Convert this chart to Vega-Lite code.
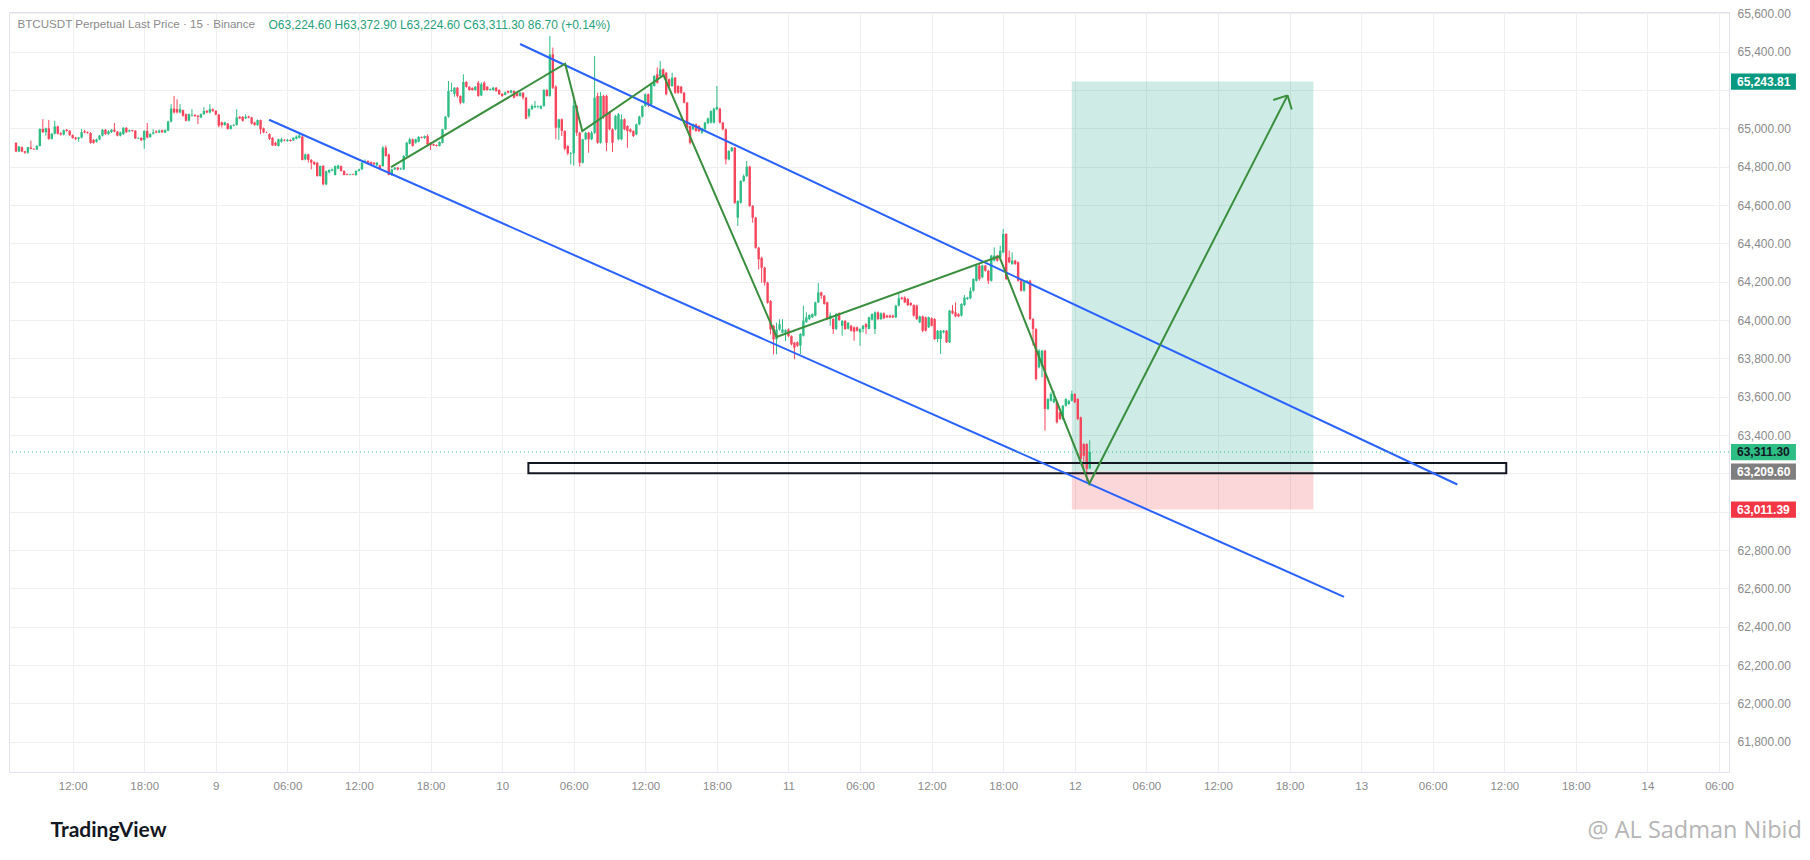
{
  "$schema": "https://vega.github.io/schema/vega-lite/v6.json",
  "width": 1720,
  "height": 760,
  "autosize": "none",
  "padding": {"left": 9, "top": 12, "right": 81, "bottom": 88},
  "background": "white",
  "config": {
    "font": "Liberation Sans",
    "view": {"stroke": "#e0e3eb"},
    "axis": {
      "labelColor": "#8a8a8a",
      "labelFont": "Liberation Sans",
      "labelFontSize": 12,
      "ticks": false,
      "tickSize": 0,
      "domainColor": "#e0e3eb",
      "gridColor": "#efefef",
      "labelFlush": false,
      "titleFontWeight": "normal"
    }
  },
  "resolve": {"axis": {"x": "independent", "y": "independent"}},
  "data": {
    "values": [
      {"t":"2024-05-08T07:15Z","o":64924,"h":64928,"l":64876,"c":64879},
      {"t":"2024-05-08T07:30Z","o":64879,"h":64908,"l":64876,"c":64905},
      {"t":"2024-05-08T07:45Z","o":64902,"h":64905,"l":64876,"c":64879},
      {"t":"2024-05-08T08:00Z","o":64880,"h":64882,"l":64867,"c":64873},
      {"t":"2024-05-08T08:15Z","o":64873,"h":64904,"l":64867,"c":64902},
      {"t":"2024-05-08T08:30Z","o":64900,"h":64936,"l":64890,"c":64893},
      {"t":"2024-05-08T08:45Z","o":64893,"h":64896,"l":64887,"c":64890},
      {"t":"2024-05-08T09:00Z","o":64890,"h":64912,"l":64886,"c":64908},
      {"t":"2024-05-08T09:15Z","o":64908,"h":65000,"l":64905,"c":64997},
      {"t":"2024-05-08T09:30Z","o":64997,"h":65048,"l":64976,"c":64980},
      {"t":"2024-05-08T09:45Z","o":64980,"h":65004,"l":64962,"c":65000},
      {"t":"2024-05-08T10:00Z","o":65000,"h":65044,"l":64940,"c":64945},
      {"t":"2024-05-08T10:15Z","o":64945,"h":64975,"l":64942,"c":64972},
      {"t":"2024-05-08T10:30Z","o":64972,"h":65040,"l":64968,"c":65010},
      {"t":"2024-05-08T10:45Z","o":65010,"h":65014,"l":64968,"c":64972},
      {"t":"2024-05-08T11:00Z","o":64975,"h":64980,"l":64962,"c":64968},
      {"t":"2024-05-08T11:15Z","o":64968,"h":64994,"l":64963,"c":64990},
      {"t":"2024-05-08T11:30Z","o":64993,"h":64996,"l":64982,"c":64986},
      {"t":"2024-05-08T11:45Z","o":64988,"h":64990,"l":64960,"c":64965},
      {"t":"2024-05-08T12:00Z","o":64965,"h":64968,"l":64946,"c":64950},
      {"t":"2024-05-08T12:15Z","o":64952,"h":64956,"l":64938,"c":64945},
      {"t":"2024-05-08T12:30Z","o":64945,"h":64956,"l":64930,"c":64952},
      {"t":"2024-05-08T12:45Z","o":64952,"h":64997,"l":64948,"c":64980},
      {"t":"2024-05-08T13:00Z","o":64985,"h":64992,"l":64974,"c":64978},
      {"t":"2024-05-08T13:15Z","o":64980,"h":64984,"l":64972,"c":64976},
      {"t":"2024-05-08T13:30Z","o":64976,"h":64980,"l":64920,"c":64924},
      {"t":"2024-05-08T13:45Z","o":64940,"h":64944,"l":64920,"c":64924},
      {"t":"2024-05-08T14:00Z","o":64930,"h":64946,"l":64926,"c":64942},
      {"t":"2024-05-08T14:15Z","o":64942,"h":64966,"l":64938,"c":64962},
      {"t":"2024-05-08T14:30Z","o":64962,"h":64996,"l":64958,"c":64993},
      {"t":"2024-05-08T14:45Z","o":64993,"h":64996,"l":64966,"c":64970},
      {"t":"2024-05-08T15:00Z","o":64970,"h":64990,"l":64966,"c":64985},
      {"t":"2024-05-08T15:15Z","o":64980,"h":64996,"l":64976,"c":64993},
      {"t":"2024-05-08T15:30Z","o":64993,"h":65028,"l":64980,"c":64983},
      {"t":"2024-05-08T15:45Z","o":64983,"h":64986,"l":64958,"c":64962},
      {"t":"2024-05-08T16:00Z","o":64962,"h":64982,"l":64958,"c":64979},
      {"t":"2024-05-08T16:15Z","o":64970,"h":65006,"l":64966,"c":65003},
      {"t":"2024-05-08T16:30Z","o":65003,"h":65006,"l":64976,"c":64980},
      {"t":"2024-05-08T16:45Z","o":64984,"h":64994,"l":64980,"c":64990},
      {"t":"2024-05-08T17:00Z","o":64990,"h":64992,"l":64982,"c":64986},
      {"t":"2024-05-08T17:15Z","o":64988,"h":64990,"l":64944,"c":64947},
      {"t":"2024-05-08T17:30Z","o":64947,"h":64953,"l":64944,"c":64950},
      {"t":"2024-05-08T17:45Z","o":64950,"h":64953,"l":64934,"c":64938},
      {"t":"2024-05-08T18:00Z","o":64938,"h":64990,"l":64893,"c":64986},
      {"t":"2024-05-08T18:15Z","o":64986,"h":65028,"l":64948,"c":64952},
      {"t":"2024-05-08T18:30Z","o":64955,"h":64975,"l":64950,"c":64970},
      {"t":"2024-05-08T18:45Z","o":64972,"h":64996,"l":64968,"c":64979},
      {"t":"2024-05-08T19:00Z","o":64984,"h":64990,"l":64975,"c":64978},
      {"t":"2024-05-08T19:15Z","o":64978,"h":64994,"l":64975,"c":64988},
      {"t":"2024-05-08T19:30Z","o":64990,"h":64994,"l":64976,"c":64980},
      {"t":"2024-05-08T19:45Z","o":64978,"h":64996,"l":64975,"c":64990},
      {"t":"2024-05-08T20:00Z","o":64988,"h":65040,"l":64985,"c":65036},
      {"t":"2024-05-08T20:15Z","o":65036,"h":65126,"l":65030,"c":65103},
      {"t":"2024-05-08T20:30Z","o":65103,"h":65169,"l":65078,"c":65083},
      {"t":"2024-05-08T20:45Z","o":65100,"h":65152,"l":65078,"c":65083},
      {"t":"2024-05-08T21:00Z","o":65083,"h":65126,"l":65078,"c":65100},
      {"t":"2024-05-08T21:15Z","o":65095,"h":65098,"l":65060,"c":65066},
      {"t":"2024-05-08T21:30Z","o":65074,"h":65078,"l":65036,"c":65040},
      {"t":"2024-05-08T21:45Z","o":65040,"h":65078,"l":65036,"c":65074},
      {"t":"2024-05-08T22:00Z","o":65066,"h":65100,"l":65062,"c":65070},
      {"t":"2024-05-08T22:15Z","o":65070,"h":65074,"l":65060,"c":65064},
      {"t":"2024-05-08T22:30Z","o":65066,"h":65070,"l":65022,"c":65060},
      {"t":"2024-05-08T22:45Z","o":65057,"h":65078,"l":65053,"c":65074},
      {"t":"2024-05-08T23:00Z","o":65074,"h":65110,"l":65070,"c":65091},
      {"t":"2024-05-08T23:15Z","o":65091,"h":65096,"l":65078,"c":65083},
      {"t":"2024-05-08T23:30Z","o":65083,"h":65126,"l":65078,"c":65100},
      {"t":"2024-05-08T23:45Z","o":65100,"h":65104,"l":65086,"c":65091},
      {"t":"2024-05-09T00:00Z","o":65091,"h":65095,"l":65068,"c":65072},
      {"t":"2024-05-09T00:15Z","o":65072,"h":65076,"l":65005,"c":65014},
      {"t":"2024-05-09T00:30Z","o":65031,"h":65035,"l":65005,"c":65017},
      {"t":"2024-05-09T00:45Z","o":65017,"h":65035,"l":65014,"c":65031},
      {"t":"2024-05-09T01:00Z","o":65025,"h":65028,"l":64993,"c":64997},
      {"t":"2024-05-09T01:15Z","o":64997,"h":65018,"l":64994,"c":65014},
      {"t":"2024-05-09T01:30Z","o":65014,"h":65022,"l":65010,"c":65018},
      {"t":"2024-05-09T01:45Z","o":65018,"h":65100,"l":65014,"c":65057},
      {"t":"2024-05-09T02:00Z","o":65060,"h":65064,"l":65048,"c":65052},
      {"t":"2024-05-09T02:15Z","o":65060,"h":65064,"l":65035,"c":65040},
      {"t":"2024-05-09T02:30Z","o":65052,"h":65074,"l":65048,"c":65060},
      {"t":"2024-05-09T02:45Z","o":65062,"h":65066,"l":65052,"c":65056},
      {"t":"2024-05-09T03:00Z","o":65057,"h":65060,"l":65020,"c":65025},
      {"t":"2024-05-09T03:15Z","o":65031,"h":65035,"l":65014,"c":65017},
      {"t":"2024-05-09T03:30Z","o":65017,"h":65046,"l":65012,"c":65043},
      {"t":"2024-05-09T03:45Z","o":65043,"h":65046,"l":64970,"c":64995},
      {"t":"2024-05-09T04:00Z","o":65000,"h":65004,"l":64975,"c":64979},
      {"t":"2024-05-09T04:15Z","o":64980,"h":64983,"l":64975,"c":64979},
      {"t":"2024-05-09T04:30Z","o":64970,"h":64974,"l":64940,"c":64945},
      {"t":"2024-05-09T04:45Z","o":64950,"h":64954,"l":64908,"c":64911},
      {"t":"2024-05-09T05:00Z","o":64925,"h":64930,"l":64908,"c":64911},
      {"t":"2024-05-09T05:15Z","o":64908,"h":64946,"l":64905,"c":64943},
      {"t":"2024-05-09T05:30Z","o":64930,"h":64951,"l":64925,"c":64943},
      {"t":"2024-05-09T05:45Z","o":64940,"h":64944,"l":64932,"c":64937},
      {"t":"2024-05-09T06:00Z","o":64934,"h":64946,"l":64930,"c":64940},
      {"t":"2024-05-09T06:15Z","o":64939,"h":64943,"l":64930,"c":64934},
      {"t":"2024-05-09T06:30Z","o":64937,"h":64953,"l":64934,"c":64951},
      {"t":"2024-05-09T06:45Z","o":64946,"h":64963,"l":64942,"c":64957},
      {"t":"2024-05-09T07:00Z","o":64951,"h":64977,"l":64948,"c":64963},
      {"t":"2024-05-09T07:15Z","o":64957,"h":64966,"l":64833,"c":64835},
      {"t":"2024-05-09T07:30Z","o":64838,"h":64868,"l":64835,"c":64864},
      {"t":"2024-05-09T07:45Z","o":64864,"h":64868,"l":64821,"c":64835},
      {"t":"2024-05-09T08:00Z","o":64835,"h":64840,"l":64786,"c":64821},
      {"t":"2024-05-09T08:15Z","o":64824,"h":64828,"l":64808,"c":64812},
      {"t":"2024-05-09T08:30Z","o":64820,"h":64824,"l":64748,"c":64751},
      {"t":"2024-05-09T08:45Z","o":64751,"h":64806,"l":64748,"c":64804},
      {"t":"2024-05-09T09:00Z","o":64804,"h":64808,"l":64703,"c":64708},
      {"t":"2024-05-09T09:15Z","o":64708,"h":64779,"l":64703,"c":64777},
      {"t":"2024-05-09T09:30Z","o":64770,"h":64786,"l":64765,"c":64783},
      {"t":"2024-05-09T09:45Z","o":64779,"h":64790,"l":64776,"c":64786},
      {"t":"2024-05-09T10:00Z","o":64757,"h":64806,"l":64754,"c":64803},
      {"t":"2024-05-09T10:15Z","o":64790,"h":64810,"l":64786,"c":64806},
      {"t":"2024-05-09T10:30Z","o":64803,"h":64806,"l":64774,"c":64778},
      {"t":"2024-05-09T10:45Z","o":64778,"h":64781,"l":64755,"c":64757},
      {"t":"2024-05-09T11:00Z","o":64762,"h":64765,"l":64755,"c":64758},
      {"t":"2024-05-09T11:15Z","o":64758,"h":64763,"l":64755,"c":64761},
      {"t":"2024-05-09T11:30Z","o":64761,"h":64764,"l":64756,"c":64758},
      {"t":"2024-05-09T11:45Z","o":64757,"h":64781,"l":64752,"c":64778},
      {"t":"2024-05-09T12:00Z","o":64778,"h":64790,"l":64775,"c":64786},
      {"t":"2024-05-09T12:15Z","o":64786,"h":64824,"l":64783,"c":64821},
      {"t":"2024-05-09T12:30Z","o":64821,"h":64838,"l":64818,"c":64830},
      {"t":"2024-05-09T12:45Z","o":64830,"h":64833,"l":64818,"c":64821},
      {"t":"2024-05-09T13:00Z","o":64824,"h":64827,"l":64810,"c":64812},
      {"t":"2024-05-09T13:15Z","o":64821,"h":64824,"l":64810,"c":64812},
      {"t":"2024-05-09T13:30Z","o":64807,"h":64824,"l":64804,"c":64821},
      {"t":"2024-05-09T13:45Z","o":64807,"h":64810,"l":64790,"c":64793},
      {"t":"2024-05-09T14:00Z","o":64803,"h":64908,"l":64800,"c":64899},
      {"t":"2024-05-09T14:15Z","o":64899,"h":64911,"l":64852,"c":64856},
      {"t":"2024-05-09T14:30Z","o":64864,"h":64868,"l":64755,"c":64757},
      {"t":"2024-05-09T14:45Z","o":64757,"h":64790,"l":64752,"c":64786},
      {"t":"2024-05-09T15:00Z","o":64786,"h":64798,"l":64783,"c":64795},
      {"t":"2024-05-09T15:15Z","o":64795,"h":64798,"l":64780,"c":64786},
      {"t":"2024-05-09T15:30Z","o":64786,"h":64795,"l":64783,"c":64790},
      {"t":"2024-05-09T15:45Z","o":64786,"h":64860,"l":64783,"c":64856},
      {"t":"2024-05-09T16:00Z","o":64856,"h":64930,"l":64852,"c":64925},
      {"t":"2024-05-09T16:15Z","o":64920,"h":64951,"l":64917,"c":64943},
      {"t":"2024-05-09T16:30Z","o":64943,"h":64946,"l":64905,"c":64908},
      {"t":"2024-05-09T16:45Z","o":64925,"h":64946,"l":64920,"c":64943},
      {"t":"2024-05-09T17:00Z","o":64930,"h":64960,"l":64927,"c":64955},
      {"t":"2024-05-09T17:15Z","o":64955,"h":64958,"l":64948,"c":64951},
      {"t":"2024-05-09T17:30Z","o":64950,"h":64963,"l":64945,"c":64960},
      {"t":"2024-05-09T17:45Z","o":64960,"h":64969,"l":64913,"c":64916},
      {"t":"2024-05-09T18:00Z","o":64925,"h":64928,"l":64887,"c":64913},
      {"t":"2024-05-09T18:15Z","o":64917,"h":64920,"l":64908,"c":64911},
      {"t":"2024-05-09T18:30Z","o":64913,"h":64916,"l":64905,"c":64908},
      {"t":"2024-05-09T18:45Z","o":64908,"h":64932,"l":64905,"c":64929},
      {"t":"2024-05-09T19:00Z","o":64925,"h":64998,"l":64922,"c":64995},
      {"t":"2024-05-09T19:15Z","o":64995,"h":65064,"l":64992,"c":65061},
      {"t":"2024-05-09T19:30Z","o":65061,"h":65247,"l":65055,"c":65195},
      {"t":"2024-05-09T19:45Z","o":65195,"h":65238,"l":65190,"c":65200},
      {"t":"2024-05-09T20:00Z","o":65180,"h":65215,"l":65165,"c":65212},
      {"t":"2024-05-09T20:15Z","o":65212,"h":65215,"l":65160,"c":65169},
      {"t":"2024-05-09T20:30Z","o":65169,"h":65172,"l":65125,"c":65134},
      {"t":"2024-05-09T20:45Z","o":65134,"h":65282,"l":65130,"c":65242},
      {"t":"2024-05-09T21:00Z","o":65242,"h":65246,"l":65212,"c":65217},
      {"t":"2024-05-09T21:15Z","o":65217,"h":65220,"l":65196,"c":65200},
      {"t":"2024-05-09T21:30Z","o":65210,"h":65214,"l":65196,"c":65200},
      {"t":"2024-05-09T21:45Z","o":65200,"h":65221,"l":65196,"c":65217},
      {"t":"2024-05-09T22:00Z","o":65238,"h":65247,"l":65165,"c":65169},
      {"t":"2024-05-09T22:15Z","o":65172,"h":65240,"l":65168,"c":65230},
      {"t":"2024-05-09T22:30Z","o":65238,"h":65245,"l":65196,"c":65200},
      {"t":"2024-05-09T22:45Z","o":65217,"h":65220,"l":65196,"c":65200},
      {"t":"2024-05-09T23:00Z","o":65200,"h":65208,"l":65196,"c":65205},
      {"t":"2024-05-09T23:15Z","o":65200,"h":65216,"l":65196,"c":65212},
      {"t":"2024-05-09T23:30Z","o":65212,"h":65215,"l":65190,"c":65195},
      {"t":"2024-05-09T23:45Z","o":65200,"h":65204,"l":65174,"c":65178},
      {"t":"2024-05-10T00:00Z","o":65180,"h":65184,"l":65164,"c":65169},
      {"t":"2024-05-10T00:15Z","o":65175,"h":65192,"l":65172,"c":65188},
      {"t":"2024-05-10T00:30Z","o":65195,"h":65198,"l":65182,"c":65186},
      {"t":"2024-05-10T00:45Z","o":65186,"h":65200,"l":65182,"c":65198},
      {"t":"2024-05-10T01:00Z","o":65195,"h":65198,"l":65156,"c":65160},
      {"t":"2024-05-10T01:15Z","o":65183,"h":65186,"l":65165,"c":65169},
      {"t":"2024-05-10T01:30Z","o":65169,"h":65190,"l":65165,"c":65186},
      {"t":"2024-05-10T01:45Z","o":65186,"h":65188,"l":65150,"c":65160},
      {"t":"2024-05-10T02:00Z","o":65160,"h":65164,"l":65048,"c":65050},
      {"t":"2024-05-10T02:15Z","o":65065,"h":65105,"l":65055,"c":65100},
      {"t":"2024-05-10T02:30Z","o":65100,"h":65125,"l":65095,"c":65117},
      {"t":"2024-05-10T02:45Z","o":65110,"h":65143,"l":65105,"c":65117},
      {"t":"2024-05-10T03:00Z","o":65112,"h":65120,"l":65105,"c":65115},
      {"t":"2024-05-10T03:15Z","o":65103,"h":65120,"l":65100,"c":65117},
      {"t":"2024-05-10T03:30Z","o":65117,"h":65205,"l":65112,"c":65200},
      {"t":"2024-05-10T03:45Z","o":65200,"h":65205,"l":65165,"c":65169},
      {"t":"2024-05-10T04:00Z","o":65169,"h":65482,"l":65165,"c":65386},
      {"t":"2024-05-10T04:15Z","o":65386,"h":65421,"l":65205,"c":65212},
      {"t":"2024-05-10T04:30Z","o":65217,"h":65225,"l":64943,"c":65003},
      {"t":"2024-05-10T04:45Z","o":65003,"h":65050,"l":64940,"c":65047},
      {"t":"2024-05-10T05:00Z","o":65047,"h":65052,"l":64960,"c":64986},
      {"t":"2024-05-10T05:15Z","o":64986,"h":64990,"l":64885,"c":64894},
      {"t":"2024-05-10T05:30Z","o":64908,"h":64912,"l":64860,"c":64870},
      {"t":"2024-05-10T05:45Z","o":64868,"h":64876,"l":64812,"c":64872},
      {"t":"2024-05-10T06:00Z","o":64870,"h":65150,"l":64806,"c":65120},
      {"t":"2024-05-10T06:15Z","o":65117,"h":65122,"l":64960,"c":64977},
      {"t":"2024-05-10T06:30Z","o":64977,"h":64982,"l":64800,"c":64821},
      {"t":"2024-05-10T06:45Z","o":64821,"h":64946,"l":64816,"c":64943},
      {"t":"2024-05-10T07:00Z","o":64943,"h":64982,"l":64938,"c":64977},
      {"t":"2024-05-10T07:15Z","o":64977,"h":64982,"l":64873,"c":64943},
      {"t":"2024-05-10T07:30Z","o":64943,"h":64986,"l":64938,"c":64977},
      {"t":"2024-05-10T07:45Z","o":64977,"h":65377,"l":64970,"c":65160},
      {"t":"2024-05-10T08:00Z","o":65169,"h":65186,"l":64920,"c":64925},
      {"t":"2024-05-10T08:15Z","o":64925,"h":65190,"l":64920,"c":65169},
      {"t":"2024-05-10T08:30Z","o":65169,"h":65175,"l":65050,"c":65060},
      {"t":"2024-05-10T08:45Z","o":65169,"h":65175,"l":64881,"c":64925},
      {"t":"2024-05-10T09:00Z","o":65082,"h":65090,"l":64990,"c":64995},
      {"t":"2024-05-10T09:15Z","o":64995,"h":65000,"l":64877,"c":64925},
      {"t":"2024-05-10T09:30Z","o":64995,"h":65070,"l":64990,"c":65064},
      {"t":"2024-05-10T09:45Z","o":64943,"h":65080,"l":64938,"c":65073},
      {"t":"2024-05-10T10:00Z","o":64943,"h":65073,"l":64938,"c":65047},
      {"t":"2024-05-10T10:15Z","o":65047,"h":65052,"l":64990,"c":64995},
      {"t":"2024-05-10T10:30Z","o":65012,"h":65016,"l":64899,"c":64986},
      {"t":"2024-05-10T10:45Z","o":64995,"h":65000,"l":64978,"c":64982},
      {"t":"2024-05-10T11:00Z","o":64986,"h":64990,"l":64955,"c":64960},
      {"t":"2024-05-10T11:15Z","o":64968,"h":65025,"l":64964,"c":65021},
      {"t":"2024-05-10T11:30Z","o":65021,"h":65066,"l":65016,"c":65061},
      {"t":"2024-05-10T11:45Z","o":65061,"h":65120,"l":65056,"c":65117},
      {"t":"2024-05-10T12:00Z","o":65117,"h":65182,"l":65112,"c":65178},
      {"t":"2024-05-10T12:15Z","o":65178,"h":65182,"l":65110,"c":65125},
      {"t":"2024-05-10T12:30Z","o":65125,"h":65234,"l":65120,"c":65229},
      {"t":"2024-05-10T12:45Z","o":65221,"h":65278,"l":65217,"c":65273},
      {"t":"2024-05-10T13:00Z","o":65282,"h":65317,"l":65234,"c":65238},
      {"t":"2024-05-10T13:15Z","o":65273,"h":65351,"l":65268,"c":65308},
      {"t":"2024-05-10T13:30Z","o":65308,"h":65312,"l":65268,"c":65273},
      {"t":"2024-05-10T13:45Z","o":65290,"h":65295,"l":65172,"c":65178},
      {"t":"2024-05-10T14:00Z","o":65256,"h":65260,"l":65215,"c":65221},
      {"t":"2024-05-10T14:15Z","o":65221,"h":65290,"l":65217,"c":65264},
      {"t":"2024-05-10T14:30Z","o":65264,"h":65268,"l":65180,"c":65186},
      {"t":"2024-05-10T14:45Z","o":65221,"h":65225,"l":65180,"c":65186},
      {"t":"2024-05-10T15:00Z","o":65217,"h":65221,"l":65180,"c":65186},
      {"t":"2024-05-10T15:15Z","o":65186,"h":65190,"l":65130,"c":65134},
      {"t":"2024-05-10T15:30Z","o":65134,"h":65138,"l":64995,"c":65003},
      {"t":"2024-05-10T15:45Z","o":65012,"h":65016,"l":64916,"c":64925},
      {"t":"2024-05-10T16:00Z","o":64995,"h":65025,"l":64990,"c":65021},
      {"t":"2024-05-10T16:15Z","o":65021,"h":65025,"l":64982,"c":64986},
      {"t":"2024-05-10T16:30Z","o":65012,"h":65016,"l":64980,"c":64986},
      {"t":"2024-05-10T16:45Z","o":64977,"h":65004,"l":64972,"c":65000},
      {"t":"2024-05-10T17:00Z","o":64995,"h":65034,"l":64990,"c":65030},
      {"t":"2024-05-10T17:15Z","o":65027,"h":65056,"l":65022,"c":65052},
      {"t":"2024-05-10T17:30Z","o":65030,"h":65094,"l":65025,"c":65090},
      {"t":"2024-05-10T17:45Z","o":65030,"h":65108,"l":65025,"c":65103},
      {"t":"2024-05-10T18:00Z","o":65099,"h":65221,"l":65095,"c":65112},
      {"t":"2024-05-10T18:15Z","o":65103,"h":65108,"l":65025,"c":65030},
      {"t":"2024-05-10T18:30Z","o":65030,"h":65034,"l":64990,"c":64995},
      {"t":"2024-05-10T18:45Z","o":64995,"h":65000,"l":64812,"c":64838},
      {"t":"2024-05-10T19:00Z","o":64838,"h":64886,"l":64833,"c":64882},
      {"t":"2024-05-10T19:15Z","o":64882,"h":64903,"l":64877,"c":64899},
      {"t":"2024-05-10T19:30Z","o":64899,"h":64903,"l":64605,"c":64612},
      {"t":"2024-05-10T19:45Z","o":64534,"h":64625,"l":64491,"c":64621},
      {"t":"2024-05-10T20:00Z","o":64612,"h":64730,"l":64607,"c":64725},
      {"t":"2024-05-10T20:15Z","o":64725,"h":64760,"l":64720,"c":64751},
      {"t":"2024-05-10T20:30Z","o":64751,"h":64830,"l":64746,"c":64800},
      {"t":"2024-05-10T20:45Z","o":64800,"h":64805,"l":64590,"c":64595},
      {"t":"2024-05-10T21:00Z","o":64595,"h":64600,"l":64508,"c":64534},
      {"t":"2024-05-10T21:15Z","o":64534,"h":64538,"l":64372,"c":64377},
      {"t":"2024-05-10T21:30Z","o":64377,"h":64382,"l":64264,"c":64317},
      {"t":"2024-05-10T21:45Z","o":64325,"h":64330,"l":64195,"c":64273},
      {"t":"2024-05-10T22:00Z","o":64273,"h":64278,"l":64180,"c":64195},
      {"t":"2024-05-10T22:15Z","o":64195,"h":64200,"l":64085,"c":64090},
      {"t":"2024-05-10T22:30Z","o":64099,"h":64104,"l":63925,"c":63951},
      {"t":"2024-05-10T22:45Z","o":63969,"h":63975,"l":63821,"c":63899},
      {"t":"2024-05-10T23:00Z","o":63899,"h":63986,"l":63821,"c":63951},
      {"t":"2024-05-10T23:15Z","o":63951,"h":64004,"l":63945,"c":63978},
      {"t":"2024-05-10T23:30Z","o":63934,"h":64004,"l":63930,"c":63951},
      {"t":"2024-05-10T23:45Z","o":63934,"h":63952,"l":63890,"c":63947},
      {"t":"2024-05-11T00:00Z","o":63951,"h":63956,"l":63910,"c":63916},
      {"t":"2024-05-11T00:15Z","o":63916,"h":63920,"l":63868,"c":63873},
      {"t":"2024-05-11T00:30Z","o":63882,"h":63886,"l":63795,"c":63856},
      {"t":"2024-05-11T00:45Z","o":63884,"h":63888,"l":63860,"c":63866},
      {"t":"2024-05-11T01:00Z","o":63866,"h":63932,"l":63823,"c":63927},
      {"t":"2024-05-11T01:15Z","o":63918,"h":64075,"l":63914,"c":63997},
      {"t":"2024-05-11T01:30Z","o":63990,"h":64040,"l":63985,"c":64014},
      {"t":"2024-05-11T01:45Z","o":64005,"h":64030,"l":64000,"c":64026},
      {"t":"2024-05-11T02:00Z","o":64014,"h":64035,"l":64010,"c":64031},
      {"t":"2024-05-11T02:15Z","o":64023,"h":64096,"l":64019,"c":64092},
      {"t":"2024-05-11T02:30Z","o":64092,"h":64193,"l":64088,"c":64144},
      {"t":"2024-05-11T02:45Z","o":64144,"h":64148,"l":64110,"c":64127},
      {"t":"2024-05-11T03:00Z","o":64127,"h":64130,"l":64080,"c":64084},
      {"t":"2024-05-11T03:15Z","o":64092,"h":64096,"l":64000,"c":64005},
      {"t":"2024-05-11T03:30Z","o":64005,"h":64040,"l":63970,"c":64023},
      {"t":"2024-05-11T03:45Z","o":64005,"h":64010,"l":63927,"c":63953},
      {"t":"2024-05-11T04:00Z","o":63953,"h":64036,"l":63948,"c":64032},
      {"t":"2024-05-11T04:15Z","o":64035,"h":64040,"l":63995,"c":64000},
      {"t":"2024-05-11T04:30Z","o":63970,"h":64000,"l":63918,"c":63995},
      {"t":"2024-05-11T04:45Z","o":63995,"h":64000,"l":63948,"c":63953},
      {"t":"2024-05-11T05:00Z","o":63955,"h":63990,"l":63950,"c":63985},
      {"t":"2024-05-11T05:15Z","o":63970,"h":63975,"l":63940,"c":63944},
      {"t":"2024-05-11T05:30Z","o":63962,"h":63966,"l":63892,"c":63939},
      {"t":"2024-05-11T05:45Z","o":63962,"h":63966,"l":63940,"c":63944},
      {"t":"2024-05-11T06:00Z","o":63936,"h":63957,"l":63866,"c":63953},
      {"t":"2024-05-11T06:15Z","o":63953,"h":63975,"l":63936,"c":63970},
      {"t":"2024-05-11T06:30Z","o":63979,"h":63984,"l":63927,"c":63962},
      {"t":"2024-05-11T06:45Z","o":63953,"h":64018,"l":63953,"c":64014},
      {"t":"2024-05-11T07:00Z","o":64002,"h":64035,"l":63998,"c":64031},
      {"t":"2024-05-11T07:15Z","o":63953,"h":64045,"l":63927,"c":64040},
      {"t":"2024-05-11T07:30Z","o":64040,"h":64045,"l":64000,"c":64005},
      {"t":"2024-05-11T07:45Z","o":64005,"h":64040,"l":64000,"c":64035},
      {"t":"2024-05-11T08:00Z","o":64035,"h":64040,"l":64005,"c":64009},
      {"t":"2024-05-11T08:15Z","o":64023,"h":64028,"l":64010,"c":64014},
      {"t":"2024-05-11T08:30Z","o":64023,"h":64028,"l":64010,"c":64014},
      {"t":"2024-05-11T08:45Z","o":64023,"h":64028,"l":64010,"c":64014},
      {"t":"2024-05-11T09:00Z","o":64014,"h":64080,"l":64010,"c":64075},
      {"t":"2024-05-11T09:15Z","o":64075,"h":64144,"l":64070,"c":64113},
      {"t":"2024-05-11T09:30Z","o":64117,"h":64121,"l":64105,"c":64110},
      {"t":"2024-05-11T09:45Z","o":64117,"h":64124,"l":64088,"c":64092},
      {"t":"2024-05-11T10:00Z","o":64110,"h":64114,"l":64073,"c":64078},
      {"t":"2024-05-11T10:15Z","o":64089,"h":64093,"l":64073,"c":64078},
      {"t":"2024-05-11T10:30Z","o":64078,"h":64082,"l":64018,"c":64023},
      {"t":"2024-05-11T10:45Z","o":64075,"h":64080,"l":64000,"c":64005},
      {"t":"2024-05-11T11:00Z","o":63988,"h":64023,"l":63984,"c":64019},
      {"t":"2024-05-11T11:15Z","o":64019,"h":64023,"l":63936,"c":63944},
      {"t":"2024-05-11T11:30Z","o":64014,"h":64018,"l":63940,"c":63944},
      {"t":"2024-05-11T11:45Z","o":63962,"h":64018,"l":63958,"c":64014},
      {"t":"2024-05-11T12:00Z","o":64009,"h":64014,"l":63966,"c":63970},
      {"t":"2024-05-11T12:15Z","o":64005,"h":64010,"l":63896,"c":63901},
      {"t":"2024-05-11T12:30Z","o":63901,"h":63948,"l":63884,"c":63944},
      {"t":"2024-05-11T12:45Z","o":63901,"h":63948,"l":63823,"c":63944},
      {"t":"2024-05-11T13:00Z","o":63936,"h":63948,"l":63930,"c":63944},
      {"t":"2024-05-11T13:15Z","o":63944,"h":63948,"l":63880,"c":63884},
      {"t":"2024-05-11T13:30Z","o":63884,"h":64053,"l":63880,"c":64049},
      {"t":"2024-05-11T13:45Z","o":64049,"h":64078,"l":64030,"c":64035},
      {"t":"2024-05-11T14:00Z","o":64040,"h":64092,"l":64015,"c":64019},
      {"t":"2024-05-11T14:15Z","o":64031,"h":64035,"l":64015,"c":64019},
      {"t":"2024-05-11T14:30Z","o":64023,"h":64088,"l":64019,"c":64084},
      {"t":"2024-05-11T14:45Z","o":64078,"h":64130,"l":64073,"c":64117},
      {"t":"2024-05-11T15:00Z","o":64110,"h":64121,"l":64105,"c":64117},
      {"t":"2024-05-11T15:15Z","o":64113,"h":64170,"l":64108,"c":64153},
      {"t":"2024-05-11T15:30Z","o":64153,"h":64218,"l":64148,"c":64214},
      {"t":"2024-05-11T15:45Z","o":64205,"h":64288,"l":64200,"c":64284},
      {"t":"2024-05-11T16:00Z","o":64284,"h":64292,"l":64205,"c":64214},
      {"t":"2024-05-11T16:15Z","o":64223,"h":64288,"l":64218,"c":64284},
      {"t":"2024-05-11T16:30Z","o":64284,"h":64288,"l":64252,"c":64257},
      {"t":"2024-05-11T16:45Z","o":64257,"h":64262,"l":64188,"c":64205},
      {"t":"2024-05-11T17:00Z","o":64205,"h":64340,"l":64200,"c":64336},
      {"t":"2024-05-11T17:15Z","o":64310,"h":64379,"l":64305,"c":64336},
      {"t":"2024-05-11T17:30Z","o":64336,"h":64340,"l":64305,"c":64310},
      {"t":"2024-05-11T17:45Z","o":64327,"h":64388,"l":64322,"c":64362},
      {"t":"2024-05-11T18:00Z","o":64353,"h":64475,"l":64348,"c":64449},
      {"t":"2024-05-11T18:15Z","o":64449,"h":64453,"l":64209,"c":64214},
      {"t":"2024-05-11T18:30Z","o":64327,"h":64362,"l":64296,"c":64301},
      {"t":"2024-05-11T18:45Z","o":64292,"h":64353,"l":64288,"c":64310},
      {"t":"2024-05-11T19:00Z","o":64310,"h":64314,"l":64288,"c":64292},
      {"t":"2024-05-11T19:15Z","o":64301,"h":64306,"l":64200,"c":64205},
      {"t":"2024-05-11T19:30Z","o":64205,"h":64214,"l":64148,"c":64153},
      {"t":"2024-05-11T19:45Z","o":64153,"h":64202,"l":64148,"c":64197},
      {"t":"2024-05-11T20:00Z","o":64197,"h":64209,"l":64192,"c":64205},
      {"t":"2024-05-11T20:15Z","o":64205,"h":64210,"l":64000,"c":64005},
      {"t":"2024-05-11T20:30Z","o":64005,"h":64010,"l":63866,"c":63953},
      {"t":"2024-05-11T20:45Z","o":63953,"h":63958,"l":63684,"c":63692},
      {"t":"2024-05-11T21:00Z","o":63753,"h":63848,"l":63748,"c":63840},
      {"t":"2024-05-11T21:15Z","o":63760,"h":63845,"l":63700,"c":63840},
      {"t":"2024-05-11T21:30Z","o":63840,"h":63845,"l":63423,"c":63536},
      {"t":"2024-05-11T21:45Z","o":63536,"h":63592,"l":63530,"c":63588},
      {"t":"2024-05-11T22:00Z","o":63579,"h":63623,"l":63575,"c":63614},
      {"t":"2024-05-11T22:15Z","o":63571,"h":63631,"l":63566,"c":63588},
      {"t":"2024-05-11T22:30Z","o":63571,"h":63575,"l":63460,"c":63466},
      {"t":"2024-05-11T22:45Z","o":63518,"h":63522,"l":63478,"c":63484},
      {"t":"2024-05-11T23:00Z","o":63484,"h":63557,"l":63478,"c":63553},
      {"t":"2024-05-11T23:15Z","o":63553,"h":63592,"l":63548,"c":63588},
      {"t":"2024-05-11T23:30Z","o":63562,"h":63584,"l":63557,"c":63579},
      {"t":"2024-05-11T23:45Z","o":63579,"h":63631,"l":63575,"c":63614},
      {"t":"2024-05-12T00:00Z","o":63614,"h":63618,"l":63566,"c":63571},
      {"t":"2024-05-12T00:15Z","o":63588,"h":63592,"l":63478,"c":63484},
      {"t":"2024-05-12T00:30Z","o":63492,"h":63496,"l":63270,"c":63275},
      {"t":"2024-05-12T00:45Z","o":63353,"h":63357,"l":63223,"c":63292},
      {"t":"2024-05-12T01:00Z","o":63353,"h":63357,"l":63160,"c":63223},
      {"t":"2024-05-12T01:15Z","o":63224.6,"h":63372.9,"l":63224.6,"c":63311.3}
    ]
  },
  "layer": [
    {
      "data": {
        "values": [
          {"t1": "2024-05-11T23:45Z", "t2": "2024-05-12T20:00Z", "p1": 63209.6, "p2": 65243.81, "k": "target"},
          {"t1": "2024-05-11T23:45Z", "t2": "2024-05-12T20:00Z", "p1": 63011.39, "p2": 63209.6, "k": "stop"}
        ]
      },
      "mark": {"type": "rect", "fillOpacity": 0.2},
      "encoding": {
        "x": {
          "field": "t1", "type": "temporal",
          "scale": {"type": "utc", "domain": [
            {"year": 2024, "month": 5, "date": 8, "hours": 7, "minutes": 5, "utc": true},
            {"year": 2024, "month": 5, "date": 14, "hours": 6, "minutes": 25, "utc": true}
          ]},
          "axis": {
            "orient": "top", "labels": false, "domain": false, "grid": false,
            "title": "BTCUSDT Perpetual Last Price · 15 · Binance",
            "titleX": 8, "titleY": 12, "titleAlign": "left", "titleBaseline": "middle",
            "titleFontSize": 11.6, "titleColor": "#8a8a8a", "titleFont": "Liberation Sans"
          }
        },
        "x2": {"field": "t2"},
        "y": {
          "field": "p1", "type": "quantitative",
          "scale": {"domain": [61642, 65607], "nice": false, "zero": false},
          "axis": {
            "orient": "left", "labels": false, "domain": false, "grid": false,
            "title": "O63,224.60  H63,372.90  L63,224.60  C63,311.30  86.70 (+0.14%)",
            "titleAngle": 0, "titleX": 259, "titleY": 12, "titleAlign": "left", "titleBaseline": "middle",
            "titleFontSize": 12, "titleColor": "#26a17b", "titleFont": "Liberation Sans"
          }
        },
        "y2": {"field": "p2"},
        "color": {"condition": {"test": "datum.k === 'target'", "value": "#089981"}, "value": "#f23645"}
      }
    },
    {
      "mark": {"type": "rule", "strokeWidth": 1},
      "encoding": {
        "x": {
          "field": "t", "type": "temporal", "scale": {"type": "utc"},
          "axis": {
            "orient": "bottom", "grid": true,
            "values": [
              {"year": 2024, "month": 5, "date": 8, "hours": 12, "utc": true},
              {"year": 2024, "month": 5, "date": 8, "hours": 18, "utc": true},
              {"year": 2024, "month": 5, "date": 9, "hours": 0, "utc": true},
              {"year": 2024, "month": 5, "date": 9, "hours": 6, "utc": true},
              {"year": 2024, "month": 5, "date": 9, "hours": 12, "utc": true},
              {"year": 2024, "month": 5, "date": 9, "hours": 18, "utc": true},
              {"year": 2024, "month": 5, "date": 10, "hours": 0, "utc": true},
              {"year": 2024, "month": 5, "date": 10, "hours": 6, "utc": true},
              {"year": 2024, "month": 5, "date": 10, "hours": 12, "utc": true},
              {"year": 2024, "month": 5, "date": 10, "hours": 18, "utc": true},
              {"year": 2024, "month": 5, "date": 11, "hours": 0, "utc": true},
              {"year": 2024, "month": 5, "date": 11, "hours": 6, "utc": true},
              {"year": 2024, "month": 5, "date": 11, "hours": 12, "utc": true},
              {"year": 2024, "month": 5, "date": 11, "hours": 18, "utc": true},
              {"year": 2024, "month": 5, "date": 12, "hours": 0, "utc": true},
              {"year": 2024, "month": 5, "date": 12, "hours": 6, "utc": true},
              {"year": 2024, "month": 5, "date": 12, "hours": 12, "utc": true},
              {"year": 2024, "month": 5, "date": 12, "hours": 18, "utc": true},
              {"year": 2024, "month": 5, "date": 13, "hours": 0, "utc": true},
              {"year": 2024, "month": 5, "date": 13, "hours": 6, "utc": true},
              {"year": 2024, "month": 5, "date": 13, "hours": 12, "utc": true},
              {"year": 2024, "month": 5, "date": 13, "hours": 18, "utc": true},
              {"year": 2024, "month": 5, "date": 14, "hours": 0, "utc": true},
              {"year": 2024, "month": 5, "date": 14, "hours": 6, "utc": true}
            ],
            "labelExpr": "utchours(datum.value) === 0 ? utcFormat(datum.value, '%-d') : utcFormat(datum.value, '%H:%M')",
            "labelFontSize": 11.5, "labelPadding": 8,
            "title": "TradingView",
            "titleX": 41, "titleY": 58, "titleAlign": "left", "titleBaseline": "middle",
            "titleFont": "Lato", "titleFontSize": 21, "titleFontWeight": "bold", "titleColor": "#131722"
          }
        },
        "y": {
          "field": "l", "type": "quantitative",
          "axis": {
            "orient": "right", "grid": true,
            "values": [61800, 62000, 62200, 62400, 62600, 62800, 63000, 63200, 63400, 63600, 63800, 64000, 64200, 64400, 64600, 64800, 65000, 65200, 65400, 65600],
            "format": ",.2f", "labelPadding": 8,
            "labelExpr": "datum.value === 65200 ? '' : datum.label",
            "title": "@ AL Sadman Nibid",
            "titleAngle": 0, "titleX": -142, "titleY": 818, "titleAlign": "left", "titleBaseline": "middle",
            "titleFont": "Open Sans", "titleFontSize": 23.5, "titleColor": "#b5b5b5"
          }
        },
        "y2": {"field": "h"},
        "color": {"condition": {"test": "datum.c >= datum.o", "value": "#2ebd85"}, "value": "#f6465d"}
      }
    },
    {
      "mark": {"type": "bar", "width": 2.4},
      "encoding": {
        "x": {"field": "t", "type": "temporal", "scale": {"type": "utc"}, "axis": null},
        "y": {"field": "o", "type": "quantitative", "axis": null},
        "y2": {"field": "c"},
        "color": {"condition": {"test": "datum.c >= datum.o", "value": "#2ebd85"}, "value": "#f6465d"}
      }
    },
    {
      "data": {"values": [{"t1": "2024-05-10T02:12Z", "t2": "2024-05-13T12:10Z", "p1": 63200, "p2": 63254}]},
      "mark": {"type": "rect", "fillOpacity": 0, "stroke": "#131722", "strokeWidth": 2},
      "encoding": {
        "x": {"field": "t1", "type": "temporal", "scale": {"type": "utc"}, "axis": null},
        "x2": {"field": "t2"},
        "y": {"field": "p1", "type": "quantitative", "axis": null},
        "y2": {"field": "p2"}
      }
    },
    {
      "data": {
        "values": [
          {"s": "upper", "t": "2024-05-10T01:30Z", "p": 65440},
          {"s": "upper", "t": "2024-05-13T08:04Z", "p": 63142},
          {"s": "lower", "t": "2024-05-09T04:28Z", "p": 65045},
          {"s": "lower", "t": "2024-05-12T22:34Z", "p": 62556}
        ]
      },
      "mark": {"type": "line", "color": "#2962ff", "strokeWidth": 2},
      "encoding": {
        "x": {"field": "t", "type": "temporal", "scale": {"type": "utc"}, "axis": null},
        "y": {"field": "p", "type": "quantitative", "axis": null},
        "detail": {"field": "s"}
      }
    },
    {
      "data": {
        "values": [
          {"s": "path", "t": "2024-05-09T14:41Z", "p": 64798},
          {"s": "path", "t": "2024-05-10T05:17Z", "p": 65337},
          {"s": "path", "t": "2024-05-10T06:43Z", "p": 64986},
          {"s": "path", "t": "2024-05-10T13:32Z", "p": 65277},
          {"s": "path", "t": "2024-05-10T23:00Z", "p": 63912},
          {"s": "path", "t": "2024-05-11T17:40Z", "p": 64332},
          {"s": "path", "t": "2024-05-12T01:13Z", "p": 63146},
          {"s": "path", "t": "2024-05-12T17:50Z", "p": 65172},
          {"s": "head1", "t": "2024-05-12T16:38Z", "p": 65148},
          {"s": "head1", "t": "2024-05-12T17:50Z", "p": 65172},
          {"s": "head2", "t": "2024-05-12T17:50Z", "p": 65172},
          {"s": "head2", "t": "2024-05-12T18:11Z", "p": 65098}
        ]
      },
      "mark": {"type": "line", "color": "#3a8f3e", "strokeWidth": 2},
      "encoding": {
        "x": {"field": "t", "type": "temporal", "scale": {"type": "utc"}, "axis": null},
        "y": {"field": "p", "type": "quantitative", "axis": null},
        "detail": {"field": "s"}
      }
    },
    {
      "data": {"values": [{"p": 63311.3}]},
      "mark": {"type": "rule", "color": "#2ebd85", "strokeWidth": 1, "strokeDash": [1, 3]},
      "encoding": {
        "y": {"field": "p", "type": "quantitative", "axis": null}
      }
    },
    {
      "data": {
        "values": [
          {"p": 65243.81, "k": "target"},
          {"p": 63311.3, "k": "last"},
          {"p": 63209.6, "k": "entry"},
          {"p": 63011.39, "k": "stop"}
        ]
      },
      "layer": [
        {
          "mark": {"type": "point", "shape": "M0.06,-0.25H2.06V0.25H0.06Z", "size": 4225, "filled": true, "opacity": 1},
          "encoding": {
            "x": {"value": "width"},
            "y": {"field": "p", "type": "quantitative", "axis": null},
            "color": {
              "condition": [
                {"test": "datum.k === 'target'", "value": "#089981"},
                {"test": "datum.k === 'last'", "value": "#2ebd85"},
                {"test": "datum.k === 'entry'", "value": "#7f7f7f"}
              ],
              "value": "#f23645"
            }
          }
        },
        {
          "mark": {"type": "text", "align": "left", "baseline": "middle", "dx": 8, "fontSize": 12, "fontWeight": "bold", "font": "Liberation Sans"},
          "encoding": {
            "x": {"value": "width"},
            "y": {"field": "p", "type": "quantitative", "axis": null},
            "text": {"field": "p", "type": "quantitative", "format": ",.2f"},
            "color": {"condition": {"test": "datum.k === 'last'", "value": "#131722"}, "value": "#ffffff"}
          }
        }
      ]
    }
  ]
}
